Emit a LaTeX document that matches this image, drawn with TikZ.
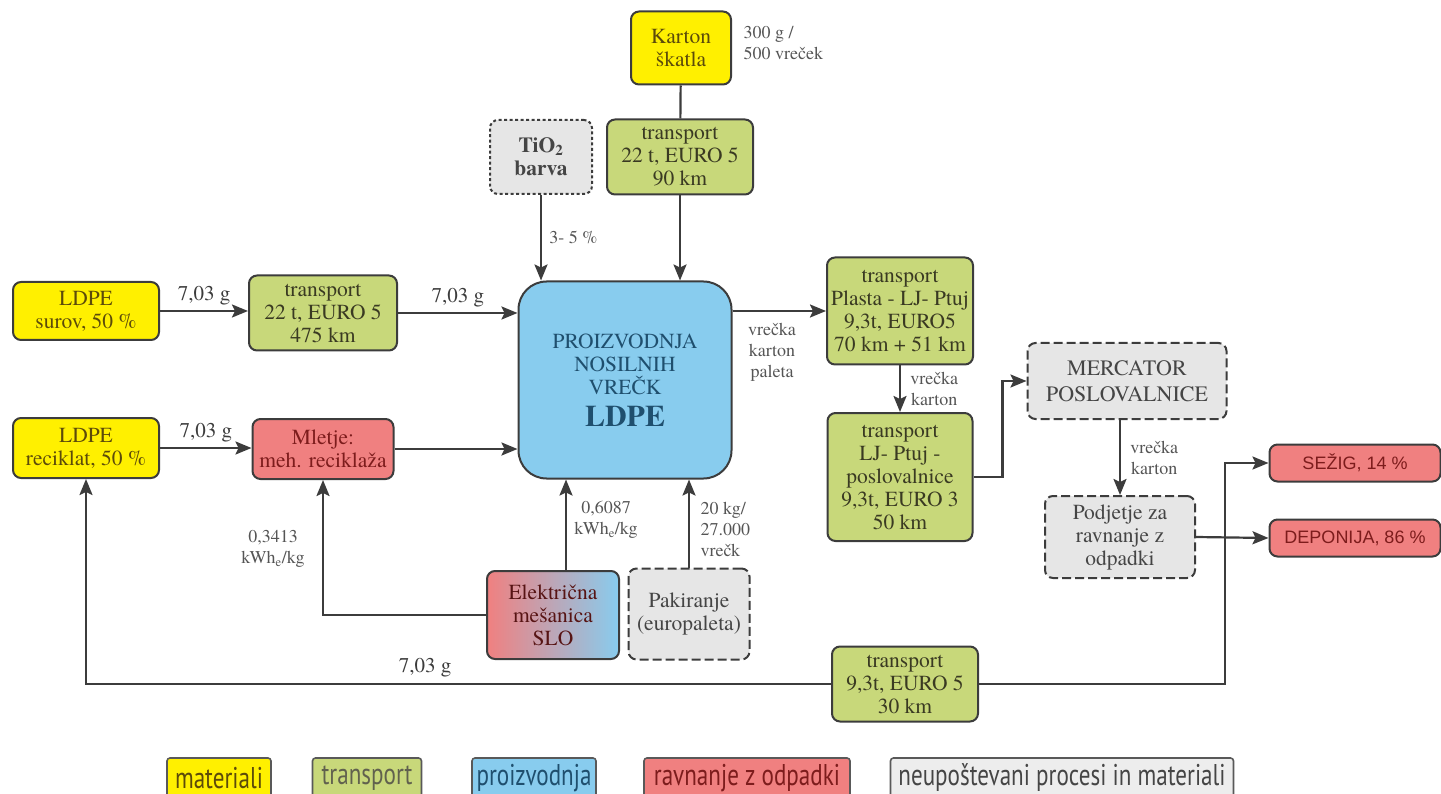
\documentclass[tikz,border=0pt]{standalone}
\usepackage{fontspec}
\setmainfont{texgyretermes}[Extension=.otf, UprightFont=*-regular, BoldFont=*-bold,
  ItalicFont=*-italic, BoldItalicFont=*-bolditalic]
\newfontfamily\legendfont[FakeStretch=0.77]{PT Sans}
\newfontfamily\wastefont{Liberation Sans}
\usetikzlibrary{arrows.meta}

\definecolor{linec}{HTML}{3C3C3C}
\definecolor{matfill}{HTML}{FFF000}
\definecolor{mattext}{HTML}{5C4B0A}
\definecolor{trfill}{HTML}{C8D87A}
\definecolor{trtext}{HTML}{3A3A22}
\definecolor{prfill}{HTML}{88CCEE}
\definecolor{prtext}{HTML}{1F4F6E}
\definecolor{wastefill}{HTML}{F08080}
\definecolor{wastetext}{HTML}{7D1C1C}
\definecolor{skipfill}{HTML}{E6E6E6}
\definecolor{skiptext}{HTML}{454545}
\definecolor{notec}{HTML}{555555}

\tikzset{
  box/.style={draw=linec, line width=2pt, rounded corners=8pt, align=center,
    inner sep=0pt, font=\fontsize{21.5}{23}\selectfont},
  matbox/.style={box, fill=matfill, text=mattext},
  trbox/.style={box, fill=trfill, text=trtext},
  prbox/.style={box, fill=prfill, text=prtext},
  wastebox/.style={box, fill=wastefill, text=wastetext},
  skipbox/.style={box, fill=skipfill, text=skiptext, dash pattern=on 9pt off 4pt},
  line/.style={draw=linec, line width=2.2pt},
  flow/.style={line, -{Stealth[length=16pt,width=13pt,inset=3pt]}},
  note/.style={text=notec, align=center, font=\fontsize{18}{21}\selectfont},
  amount/.style={text=linec, font=\fontsize{21}{23}\selectfont},
  legbox/.style={draw=linec!85, line width=1.6pt, rounded corners=3pt, inner sep=0pt,
    minimum height=40pt, font=\legendfont\fontsize{30}{32}\selectfont}
}

\begin{document}
\begin{tikzpicture}[x=1pt,y=-1pt]
\useasboundingbox (0,0) rectangle (1441,794);

% Production in the middle
\node[prbox, minimum width=213pt, minimum height=197pt, rounded corners=28pt] (main) at (625,380)
  {PROIZVODNJA\\NOSILNIH\\VREČK\\[9pt]{\fontsize{30}{30}\selectfont\bfseries LDPE}};

% Inputs from the top
\node[matbox, minimum width=100pt, minimum height=73pt] (karton) at (681,48) {Karton\\škatla};
\node[note, anchor=west, align=left] (kartonnote) at (740,43) {300 g /\\500 vreček};
\node[trbox, minimum width=146pt, minimum height=75pt] (trkarton) at (680,157) {transport\\22 t, EURO 5\\90 km};
\node[skipbox, minimum width=102pt, minimum height=74pt, dash pattern=on 3pt off 2.5pt,
  font=\fontsize{21.5}{23}\selectfont\bfseries] (tio) at (541,157) {TiO\textsubscript{2}\\barva};

\draw[line] (karton) -- (trkarton);
\draw[flow] (trkarton.south) -- (trkarton.south |- main.north);
\draw[flow] (tio.south) -- (tio.south |- main.north) node[note, pos=0.5, right=4pt] {3- 5 \%};

% LDPE raw and recycled
\node[matbox, minimum width=146pt, minimum height=58pt] (surov) at (86,311) {LDPE\\surov, 50 \%};
\node[trbox, minimum width=148pt, minimum height=75pt] (trsurov) at (323,313) {transport\\22 t, EURO 5\\475 km};
\node[matbox, minimum width=146pt, minimum height=60pt] (recik) at (86,448) {LDPE\\reciklat, 50 \%};
\node[wastebox, minimum width=141pt, minimum height=60pt] (mletje) at (323,449) {Mletje:\\meh. reciklaža};

\draw[flow] (surov.east) -- (surov.east -| trsurov.west) node[amount, midway, above=1pt] {7,03 g};
\draw[flow] (trsurov.east) -- (trsurov.east -| main.west) node[amount, midway, above=1pt] {7,03 g};
\draw[flow] (recik.east) -- (recik.east -| mletje.west) node[amount, midway, above=1pt] {7,03 g};
\draw[flow] (mletje.east) -- (mletje.east -| main.west);

% Electricity and packaging
\node[box, left color=wastefill, right color=prfill, text=wastetext!70!black,
  minimum width=132pt, minimum height=88pt] (elek) at (553,615) {Električna\\mešanica\\SLO};
\node[skipbox, minimum width=121pt, minimum height=91pt] (pak) at (689,614) {Pakiranje\\(europaleta)};

\draw[flow] ([xshift=13pt]elek.north) -- ([xshift=13pt]elek.north |- main.south)
  node[note, pos=0.55, right=4pt] {0,6087\\kWh\textsubscript{e}/kg};
\draw[flow] (elek.west) -| (mletje.south);
\node[note] (mletjenote) at (273,549) {0,3413\\kWh\textsubscript{e}/kg};
\draw[flow] (pak.north) -- (pak.north |- main.south);
\node[note, anchor=west, align=left] (paknote) at (697,529) {20 kg/\\27.000\\vrečk};

% Distribution to the shops
\node[trbox, minimum width=146pt, minimum height=107pt] (trplasta) at (900,311)
  {transport\\Plasta - LJ- Ptuj\\9,3t, EURO5\\70 km + 51 km};
\node[trbox, minimum width=145pt, minimum height=128pt] (trlj) at (900,477)
  {transport\\LJ- Ptuj -\\poslovalnice\\9,3t, EURO 3\\50 km};
\node[skipbox, minimum width=199pt, minimum height=76pt, font=\fontsize{22}{26}\selectfont] (mercator) at (1127,381)
  {MERCATOR\\POSLOVALNICE};
\node[skipbox, minimum width=150pt, minimum height=82pt] (podjetje) at (1120,537)
  {Podjetje za\\ravnanje z\\odpadki};

\draw[flow] (main.east |- trplasta.west) -- (trplasta.west);
\node[note] (mainnote) at (772,352) {vrečka\\karton\\paleta};
\draw[flow] (trplasta.south) -- (trlj.north) node[note, midway, right=6pt] {vrečka\\karton};
\draw[flow] (trlj.east) -- ++(29,0) |- (mercator.west);
\draw[flow] (podjetje.north |- mercator.south) -- (podjetje.north)
  node[note, midway, right=6pt] {vrečka\\karton};

% End of life
\node[wastebox, minimum width=171pt, minimum height=37pt, font=\wastefont\fontsize{18}{20}\selectfont] (sezig) at (1355,463) {SEŽIG, 14 \%};
\node[wastebox, minimum width=171pt, minimum height=37pt, font=\wastefont\fontsize{18}{20}\selectfont] (deponija) at (1355,538) {DEPONIJA, 86 \%};
\node[trbox, minimum width=146pt, minimum height=75pt] (trback) at (905,684) {transport\\9,3t, EURO 5\\30 km};
\coordinate (turn) at (1225,684);

\draw[flow] (podjetje.east) -- (deponija.west);
\draw[flow] (trback.east) -- (turn) |- (sezig.west);
\draw[flow] (trback.west) -| (recik.south);
\node[amount] (backnote) at (425,668) {7,03 g};

% Legend
\node[legbox, fill=matfill, text=mattext, minimum width=104pt] (legmat) at (219,778) {materiali};
\node[legbox, fill=trfill, text=trtext!80, minimum width=109pt] (legtr) at (367,778) {transport};
\node[legbox, fill=prfill, text=prtext, minimum width=124pt] (legpr) at (534,778) {proizvodnja};
\node[legbox, fill=wastefill, text=wastetext, minimum width=206pt] (legwaste) at (747,778) {ravnanje z odpadki};
\node[legbox, fill=skipfill!70, text=skiptext, minimum width=343pt] (legskip) at (1062,778) {neupoštevani procesi in materiali};

\end{tikzpicture}
\end{document}
